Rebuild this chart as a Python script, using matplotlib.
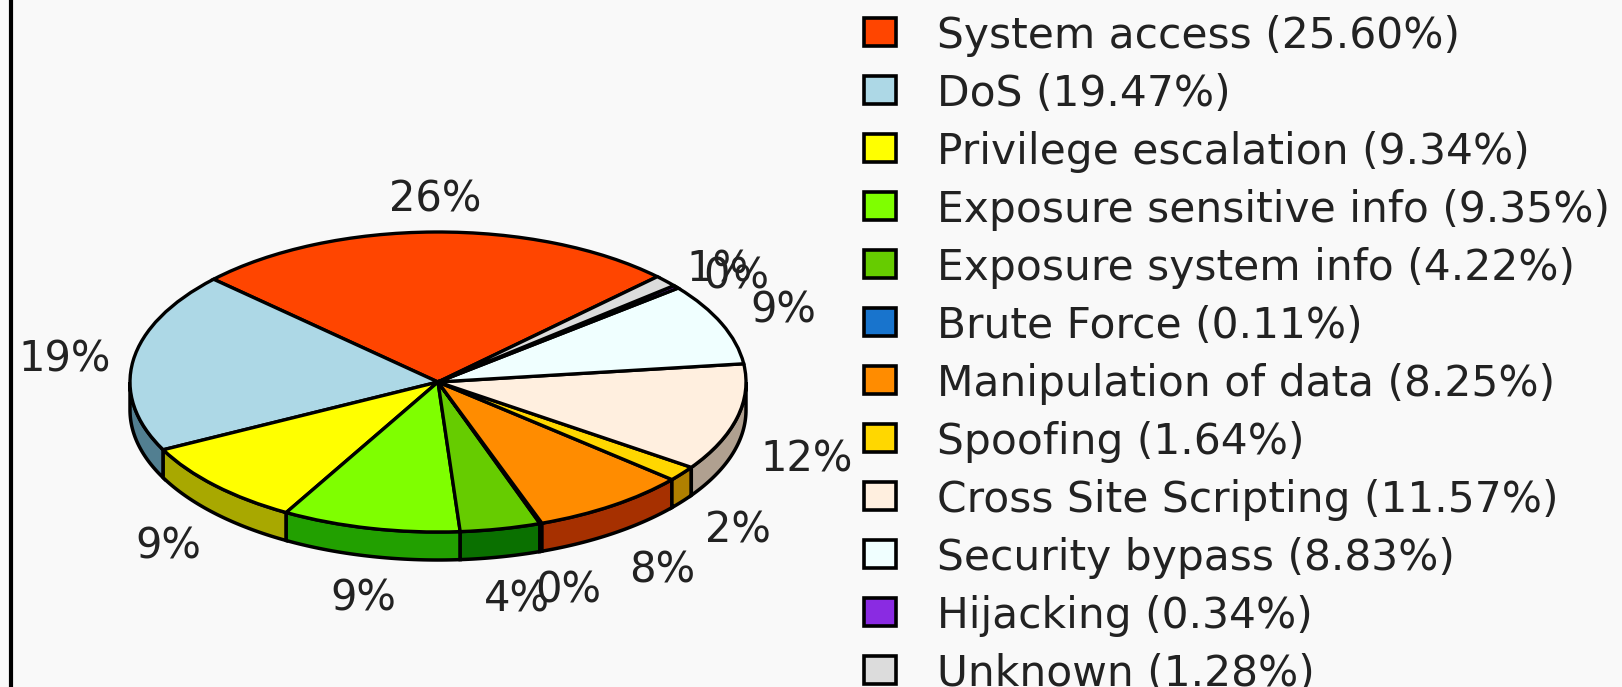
import numpy as np
import matplotlib
matplotlib.use("Agg")
import matplotlib.pyplot as plt
from matplotlib.patches import Rectangle, Polygon

# Data, in the order the slices go round the pie
categories = ["System access", "DoS", "Privilege escalation", "Exposure sensitive info",
              "Exposure system info", "Brute Force", "Manipulation of data", "Spoofing",
              "Cross Site Scripting", "Security bypass", "Hijacking", "Unknown"]
values = [25.60, 19.47, 9.34, 9.35, 4.22, 0.11, 8.25, 1.64, 11.57, 8.83, 0.34, 1.28]
colors = ["#ff4500", "#add8e6", "#ffff00", "#7fff00", "#66cc00", "#1874cd",
          "#ff8c00", "#ffd700", "#ffefdf", "#f0ffff", "#8a2be2", "#dcdcdc"]
side_colors = ["#a82d00", "#527f91", "#a8a800", "#22a000", "#0a7000", "#104c88",
               "#a63000", "#b08000", "#b0a090", "#a0a8a8", "#5a1c94", "#909090"]

W, H = 1622, 687
BG = "#f9f9f9"
INK = "#222222"
cx, cy, rx, ry, depth = 438, 382, 308, 150, 28
start_angle = 44.6

# small nudges (px) for the pie labels that dont sit on the ring
nudges = {"System access": (2, 5), "DoS": (-1, 4), "Privilege escalation": (2, 7),
          "Exposure sensitive info": (8, 6), "Exposure system info": (3, 6),
          "Brute Force": (5, 4), "Manipulation of data": (11, 6), "Spoofing": (2, 6),
          "Cross Site Scripting": (4, 5), "Security bypass": (-1, 1),
          "Hijacking": (8, 13), "Unknown": (3, 14)}

fig = plt.figure(figsize=(W / 100, H / 100), dpi=100, facecolor=BG)

# pixel canvas for the text, legend and frame line
ax = fig.add_axes([0, 0, 1, 1], zorder=2)
ax.set_xlim(0, W)
ax.set_ylim(H, 0)
ax.axis("off")

# the pie lives in its own stretched axes, so the circle turns into an ellipse
pie_ax = fig.add_axes([(cx - rx) / W, 1 - (cy + ry) / H, 2 * rx / W, 2 * ry / H], zorder=1)
pie_ax.patch.set_alpha(0)

# side wall first, under the pie
shares = np.array(values) / sum(values) * 360
edges = start_angle + np.concatenate([[0], np.cumsum(shares)])
d = depth / ry
for i in range(len(values)):
    a0, a1 = edges[i], edges[i + 1]
    for lo, hi in [(a0, a1), (a0 - 360, a1 - 360)]:
        lo, hi = max(lo, -180), min(hi, 0)
        if hi <= lo:
            continue
        t = np.radians(np.linspace(lo, hi, 40))
        top = np.column_stack([np.cos(t), np.sin(t)])
        low = (top - [0, d])[::-1]
        pie_ax.add_patch(Polygon(np.vstack([top, low]), closed=True, facecolor=side_colors[i],
                                 edgecolor="black", lw=2.5, clip_on=False, zorder=0))

pie_ax.pie(values, colors=colors, startangle=start_angle, counterclock=True, radius=1,
           wedgeprops={"edgecolor": "black", "linewidth": 2.4, "clip_on": False})
pie_ax.set_aspect("auto")
pie_ax.set_xlim(-1, 1)
pie_ax.set_ylim(-1, 1)

# percent labels around the pie
mids = np.radians((edges[:-1] + edges[1:]) / 2)
for name, v, m in zip(categories, values, mids):
    x = cx + 1.22 * rx * np.cos(m)
    y = cy - 1.25 * ry * np.sin(m) + (depth if np.sin(m) < 0 else 0)
    dx, dy = nudges.get(name, (0, 0))
    ax.text(x + dx, y + dy, f"{v:.0f}%", fontsize=30, color=INK, ha="center", va="center",
            family="DejaVu Sans")

# legend
for i, (name, v, c) in enumerate(zip(categories, values, colors)):
    y0 = 16 + 58 * i
    ax.add_patch(Rectangle((864, y0 + 2), 32, 28, facecolor=c, edgecolor="black", lw=2.6, clip_on=True))
    ax.text(937, y0 + 20, f"{name} ({v:.2f}%)", fontsize=30.5, color=INK, ha="left", va="center",
            family="DejaVu Sans")

# frame line on the left
ax.plot([11, 11], [0, H], color="black", lw=3, solid_capstyle="butt")

fig.savefig("out.png", dpi=100, facecolor=BG)
